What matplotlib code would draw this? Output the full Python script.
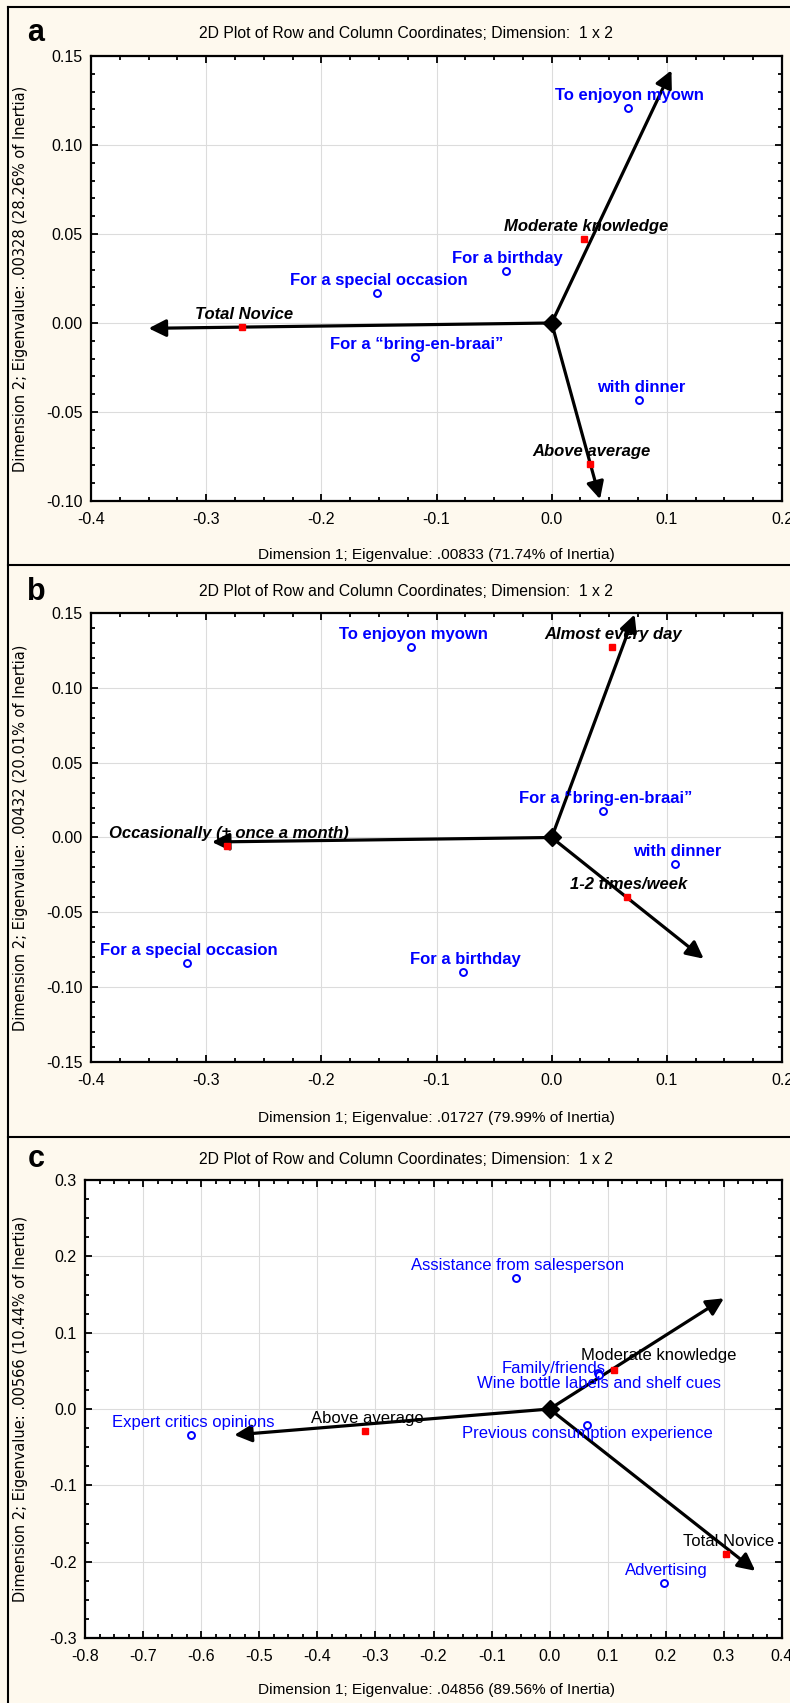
import matplotlib
matplotlib.use('Agg')
import matplotlib.pyplot as plt
from matplotlib.lines import Line2D
from matplotlib.ticker import MultipleLocator, FuncFormatter

plt.rcParams['font.family'] = ['Liberation Sans', 'DejaVu Sans']
plt.rcParams['axes.unicode_minus'] = False

BG = '#FEF9EE'
W, H = 790, 1703

# a) occasion vs. wine knowledge
a_col_labels = ['To enjoyon myown', 'For a birthday', 'For a special occasion',
                'For a \u201cbring-en-braai\u201d', 'with dinner']
a_col_x = [0.066, -0.040, -0.152, -0.119, 0.076]
a_col_y = [0.121, 0.029, 0.017, -0.019, -0.043]
a_row_labels = ['Moderate knowledge', 'Total Novice', 'Above average']
a_row_x = [0.028, -0.269, 0.033]
a_row_y = [0.047, -0.002, -0.079]
a_arrow_x = [0.104, -0.350, 0.042]
a_arrow_y = [0.142, -0.003, -0.099]

# b) occasion vs. consumption frequency
b_col_labels = ['To enjoyon myown', 'For a \u201cbring-en-braai\u201d', 'with dinner',
                'For a special occasion', 'For a birthday']
b_col_x = [-0.122, 0.045, 0.107, -0.317, -0.077]
b_col_y = [0.127, 0.018, -0.018, -0.084, -0.090]
b_row_labels = ['Almost every day', 'Occasionally (\u00b1 once a month)', '1-2 times/week']
b_row_x = [0.052, -0.282, 0.065]
b_row_y = [0.127, -0.006, -0.040]
b_arrow_x = [0.072, -0.295, 0.132]
b_arrow_y = [0.149, -0.003, -0.081]

# c) information source vs. wine knowledge
c_col_labels = ['Assistance from salesperson', 'Family/friends',
                'Wine bottle labels and shelf cues', 'Expert critics opinions',
                'Previous consumption experience', 'Advertising']
c_col_x = [-0.058, 0.083, 0.085, -0.617, 0.064, 0.197]
c_col_y = [0.172, 0.047, 0.045, -0.034, -0.021, -0.228]
c_row_labels = ['Moderate knowledge', 'Above average', 'Total Novice']
c_row_x = [0.111, -0.318, 0.304]
c_row_y = [0.051, -0.029, -0.190]
c_arrow_x = [0.300, -0.543, 0.354]
c_arrow_y = [0.145, -0.034, -0.212]

# labels that were dragged away from the default spot (pixels, to baseline)
c_moved = {'Moderate knowledge': (45, 10), 'Family/friends': (-44, 0),
           'Wine bottle labels and shelf cues': (0, -13),
           'Previous consumption experience': (1, -13)}

fig = plt.figure(figsize=(W / 100, H / 100), dpi=100, facecolor=BG)


def px_rect(left, top, right, bottom):
    return [left / W, 1 - bottom / H, (right - left) / W, (bottom - top) / H]


def tick_fmt(nd):
    return FuncFormatter(lambda v, p: f'{round(v, 4) + 0:.{nd}f}')


def corr_panel(rect, letter, title_px, xlab_px, xlabel, ylabel,
               col_lab, col_x, col_y, row_lab, row_x, row_y, arr_x, arr_y,
               xlim, ylim, ystep, yminor, ynd, bold, fs, moved={}):
    ax = fig.add_axes(rect)
    ax.set_xlim(xlim)
    ax.set_ylim(ylim)
    ax.xaxis.set_major_locator(MultipleLocator(0.1))
    ax.xaxis.set_minor_locator(MultipleLocator(0.025))
    ax.yaxis.set_major_locator(MultipleLocator(ystep))
    ax.yaxis.set_minor_locator(MultipleLocator(yminor))
    ax.xaxis.set_major_formatter(tick_fmt(1))
    ax.yaxis.set_major_formatter(tick_fmt(ynd))
    ax.tick_params(which='both', direction='in', top=True, right=True,
                   width=1.3, labelsize=11.5)
    ax.tick_params(which='major', length=5)
    ax.tick_params(which='minor', length=3)
    ax.tick_params(axis='y', pad=6)
    ax.tick_params(axis='x', pad=8)
    ax.grid(True, which='major', color='#dcdcdc', lw=0.8)
    ax.set_axisbelow(True)
    for s in ax.spines.values():
        s.set_linewidth(1.6)

    for tx, ty in zip(arr_x, arr_y):
        ax.annotate('', xy=(tx, ty), xytext=(0, 0),
                    arrowprops=dict(arrowstyle='-|>', color='black', lw=2.3,
                                    mutation_scale=26, shrinkA=0, shrinkB=0))
    ax.plot([0], [0], marker='D', color='black', ms=9.5, zorder=4)
    ax.plot(col_x, col_y, 'o', ms=5, mfc='white', mec='blue', mew=1.4,
            ls='none', zorder=5)
    ax.plot(row_x, row_y, 's', ms=5, color='red', ls='none', zorder=5)

    weight = 'bold' if bold else 'normal'
    for lab, x, y in zip(col_lab, col_x, col_y):
        dx, dy = moved.get(lab, (2, 8))
        ax.annotate(lab, (x, y), xytext=(dx, dy), textcoords='offset pixels',
                    ha='center', va='baseline', color='blue', fontsize=fs,
                    fontweight=weight, zorder=6)
    for lab, x, y in zip(row_lab, row_x, row_y):
        dx, dy = moved.get(lab, (2, 8))
        ax.annotate(lab, (x, y), xytext=(dx, dy), textcoords='offset pixels',
                    ha='center', va='baseline', color='black', fontsize=fs,
                    fontweight=weight, style='italic' if bold else 'normal',
                    zorder=6)

    ax.set_ylabel(ylabel, fontsize=10.5, family='DejaVu Sans')
    ax.yaxis.set_label_coords(28 / W, rect[1] + rect[3] / 2,
                              transform=fig.transFigure)

    fig.text(406 / W, 1 - title_px / H,
             '2D Plot of Row and Column Coordinates; Dimension:  1 x 2',
             ha='center', va='center', fontsize=11.3)
    fig.text(36 / W, 1 - title_px / H, letter, ha='center', va='center',
             fontsize=22, fontweight='bold')
    fig.text(436 / W, 1 - xlab_px / H, xlabel, ha='center', va='center',
             fontsize=11.1)
    return ax


corr_panel(px_rect(91, 56, 782, 501), 'a', 33, 555,
           'Dimension 1; Eigenvalue: .00833 (71.74% of Inertia)',
           'Dimension 2; Eigenvalue: .00328 (28.26% of Inertia)',
           a_col_labels, a_col_x, a_col_y, a_row_labels, a_row_x, a_row_y,
           a_arrow_x, a_arrow_y, (-0.4, 0.2), (-0.10, 0.15), 0.05, 0.01, 2,
           True, 12)

corr_panel(px_rect(91, 613, 782, 1062), 'b', 592, 1118,
           'Dimension 1; Eigenvalue: .01727 (79.99% of Inertia)',
           'Dimension 2; Eigenvalue: .00432 (20.01% of Inertia)',
           b_col_labels, b_col_x, b_col_y, b_row_labels, b_row_x, b_row_y,
           b_arrow_x, b_arrow_y, (-0.4, 0.2), (-0.15, 0.15), 0.05, 0.01, 2,
           True, 12)

corr_panel(px_rect(85, 1180, 782, 1638), 'c', 1159, 1690,
           'Dimension 1; Eigenvalue: .04856 (89.56% of Inertia)',
           'Dimension 2; Eigenvalue: .00566 (10.44% of Inertia)',
           c_col_labels, c_col_x, c_col_y, c_row_labels, c_row_x, c_row_y,
           c_arrow_x, c_arrow_y, (-0.8, 0.4), (-0.3, 0.3), 0.1, 0.025, 1,
           False, 12, c_moved)

# panel frame lines
frame = dict(color='black', lw=1.5, transform=fig.transFigure)
fig.add_artist(Line2D([8 / W, 8 / W], [0, 1 - 7 / H], **frame))
fig.add_artist(Line2D([8 / W, 1], [1 - 7 / H, 1 - 7 / H], **frame))
fig.add_artist(Line2D([8 / W, 1], [1 - 565 / H, 1 - 565 / H], **frame))
fig.add_artist(Line2D([8 / W, 1], [1 - 1137 / H, 1 - 1137 / H], **frame))

fig.savefig('out.png', dpi=100, facecolor=BG)
